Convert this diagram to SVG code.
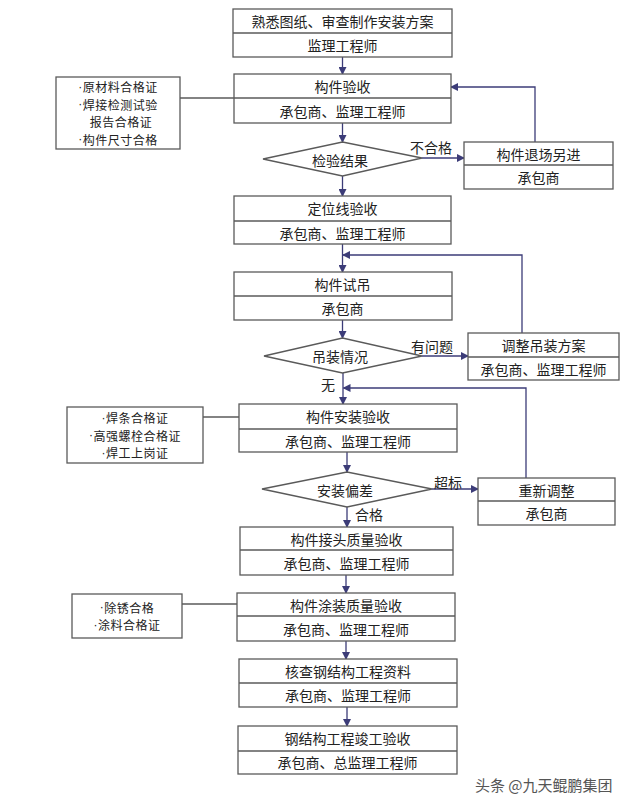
<svg xmlns="http://www.w3.org/2000/svg" width="640" height="805" viewBox="0 0 640 805">
<defs>
<marker id="ah" markerWidth="8" markerHeight="8" refX="7" refY="4" orient="auto" markerUnits="userSpaceOnUse">
<path d="M0,0 L8,4 L0,8 Z" fill="#3c3c78"/>
</marker>
<style>
.bx{fill:#fff;stroke:#5a5a5a;stroke-width:1.3}
.dv{stroke:#5a5a5a;stroke-width:1.3}
.t{font-family:"Noto Sans CJK SC","Noto Sans",sans-serif;font-size:14px;fill:#222;text-anchor:middle;dominant-baseline:central}
.s{font-family:"Noto Sans CJK SC","Noto Sans",sans-serif;font-size:12px;fill:#222;text-anchor:middle;dominant-baseline:central;letter-spacing:0.5px}
.b{font-family:"Liberation Sans",sans-serif}
.c{fill:none;stroke:#3c3c78;stroke-width:1.3}
.g{fill:none;stroke:#5a5a5a;stroke-width:1.3}
.lb{font-family:"Noto Sans CJK SC","Noto Sans",sans-serif;font-size:14px;fill:#222;dominant-baseline:central}
</style>
</defs>
<rect width="640" height="805" fill="#fff"/>

<g id="connectors">
<line class="c" x1="342.5" y1="57" x2="342.5" y2="74" marker-end="url(#ah)"/>
<line class="c" x1="342.5" y1="123" x2="342.5" y2="142" marker-end="url(#ah)"/>
<line class="c" x1="342.5" y1="176" x2="342.5" y2="196" marker-end="url(#ah)"/>
<line class="c" x1="342.5" y1="244" x2="342.5" y2="272" marker-end="url(#ah)"/>
<line class="c" x1="342.5" y1="320" x2="342.5" y2="338" marker-end="url(#ah)"/>
<line class="c" x1="343" y1="373" x2="343" y2="404" marker-end="url(#ah)"/>
<line class="c" x1="347" y1="452" x2="347" y2="472" marker-end="url(#ah)"/>
<line class="c" x1="347" y1="507" x2="347" y2="527" marker-end="url(#ah)"/>
<line class="c" x1="346" y1="575" x2="346" y2="593" marker-end="url(#ah)"/>
<line class="c" x1="346" y1="641" x2="346" y2="659" marker-end="url(#ah)"/>
<line class="c" x1="347" y1="707" x2="347" y2="726" marker-end="url(#ah)"/>
<line class="c" x1="422" y1="158" x2="464" y2="158" marker-end="url(#ah)"/>
<polyline class="c" points="535,142 535,87 451,87" marker-end="url(#ah)"/>
<line class="c" x1="422" y1="356" x2="468" y2="356" marker-end="url(#ah)"/>
<polyline class="c" points="522,333 522,255 343,255" marker-end="url(#ah)"/>
<line class="c" x1="432" y1="489" x2="478" y2="489" marker-end="url(#ah)"/>
<polyline class="c" points="526,478 526,388 343.5,388" marker-end="url(#ah)"/>
<line class="g" x1="180" y1="98" x2="234" y2="98"/>
<line class="g" x1="203" y1="417" x2="239" y2="417"/>
<line class="g" x1="182" y1="604" x2="237" y2="604"/>
<text class="lb" x="410" y="147">不合格</text>
<text class="lb" x="411" y="346">有问题</text>
<text class="lb" x="321" y="384">无</text>
<text class="lb" x="434" y="482">超标</text>
<text class="lb" x="355" y="514">合格</text>
</g>

<g id="n1">
<rect class="bx" x="233" y="9" width="219" height="48"/>
<line class="dv" x1="233" y1="33" x2="452" y2="33"/>
<text class="t" x="342.5" y="21">熟悉图纸、审查制作安装方案</text>
<text class="t" x="342.5" y="45">监理工程师</text>
</g>

<g id="n2">
<rect class="bx" x="234" y="74" width="217" height="49"/>
<line class="dv" x1="234" y1="98" x2="451" y2="98"/>
<text class="t" x="342.5" y="86">构件验收</text>
<text class="t" x="342.5" y="111">承包商、监理工程师</text>
</g>

<g id="note1">
<rect class="bx" x="56" y="77" width="124" height="72"/>
<text class="s" x="118" y="86.75"><tspan class="b">·</tspan>原材料合格证</text>
<text class="s" x="118" y="104.25"><tspan class="b">·</tspan>焊接检测试验</text>
<text class="s" x="121" y="121.75">报告合格证</text>
<text class="s" x="118" y="139.25"><tspan class="b">·</tspan>构件尺寸合格</text>
</g>

<g id="d1">
<polygon class="bx" points="263,159 342.5,142 422,158 342.5,176"/>
<text class="t" x="340" y="160">检验结果</text>
</g>

<g id="n_return">
<rect class="bx" x="464" y="142" width="149" height="47"/>
<line class="dv" x1="464" y1="165" x2="613" y2="165"/>
<text class="t" x="538.5" y="154">构件退场另进</text>
<text class="t" x="538.5" y="177">承包商</text>
</g>

<g id="n3">
<rect class="bx" x="234" y="196" width="217" height="48"/>
<line class="dv" x1="234" y1="221" x2="451" y2="221"/>
<text class="t" x="342.5" y="208">定位线验收</text>
<text class="t" x="342.5" y="233">承包商、监理工程师</text>
</g>

<g id="n4">
<rect class="bx" x="234" y="272" width="218" height="48"/>
<line class="dv" x1="234" y1="296" x2="452" y2="296"/>
<text class="t" x="342.5" y="284">构件试吊</text>
<text class="t" x="342.5" y="308">承包商</text>
</g>

<g id="d2">
<polygon class="bx" points="264,356 342.5,338 422,356 342.5,373"/>
<text class="t" x="340" y="356">吊装情况</text>
</g>

<g id="n_adjust">
<rect class="bx" x="468" y="333" width="151" height="47"/>
<line class="dv" x1="468" y1="357" x2="619" y2="357"/>
<text class="t" x="543.5" y="345">调整吊装方案</text>
<text class="t" x="543.5" y="369">承包商、监理工程师</text>
</g>

<g id="n5">
<rect class="bx" x="239" y="404" width="218" height="48"/>
<line class="dv" x1="239" y1="429" x2="457" y2="429"/>
<text class="t" x="348" y="416">构件安装验收</text>
<text class="t" x="348" y="441">承包商、监理工程师</text>
</g>

<g id="note2">
<rect class="bx" x="67" y="407" width="136" height="56"/>
<text class="s" x="135" y="417.5"><tspan class="b">·</tspan>焊条合格证</text>
<text class="s" x="135" y="435"><tspan class="b">·</tspan>高强螺栓合格证</text>
<text class="s" x="135" y="452.5"><tspan class="b">·</tspan>焊工上岗证</text>
</g>

<g id="d3">
<polygon class="bx" points="262,489 347,472 432,489 347,507"/>
<text class="t" x="345" y="490">安装偏差</text>
</g>

<g id="n_readjust">
<rect class="bx" x="478" y="478" width="137" height="47"/>
<line class="dv" x1="478" y1="501" x2="615" y2="501"/>
<text class="t" x="546.5" y="490">重新调整</text>
<text class="t" x="546.5" y="513">承包商</text>
</g>

<g id="n6">
<rect class="bx" x="240" y="527" width="213" height="48"/>
<line class="dv" x1="240" y1="550" x2="453" y2="550"/>
<text class="t" x="346.5" y="539">构件接头质量验收</text>
<text class="t" x="346.5" y="563">承包商、监理工程师</text>
</g>

<g id="n7">
<rect class="bx" x="237" y="593" width="218" height="48"/>
<line class="dv" x1="237" y1="616" x2="455" y2="616"/>
<text class="t" x="346" y="605">构件涂装质量验收</text>
<text class="t" x="346" y="629">承包商、监理工程师</text>
</g>

<g id="note3">
<rect class="bx" x="72" y="594" width="110" height="44"/>
<text class="s" x="127" y="607.25"><tspan class="b">·</tspan>除锈合格</text>
<text class="s" x="127" y="624.75"><tspan class="b">·</tspan>涂料合格证</text>
</g>

<g id="n8">
<rect class="bx" x="239" y="659" width="218" height="48"/>
<line class="dv" x1="239" y1="683" x2="457" y2="683"/>
<text class="t" x="348" y="671">核查钢结构工程资料</text>
<text class="t" x="348" y="695">承包商、监理工程师</text>
</g>

<g id="n9">
<rect class="bx" x="238" y="726" width="219" height="48"/>
<line class="dv" x1="238" y1="751" x2="457" y2="751"/>
<text class="t" x="347.5" y="738">钢结构工程竣工验收</text>
<text class="t" x="347.5" y="762">承包商、总监理工程师</text>
</g>

<text x="475" y="784" font-family="'Noto Sans CJK SC','Noto Sans',sans-serif" font-size="15" fill="#555" dominant-baseline="central">头条 @九天鲲鹏集团</text>
</svg>
